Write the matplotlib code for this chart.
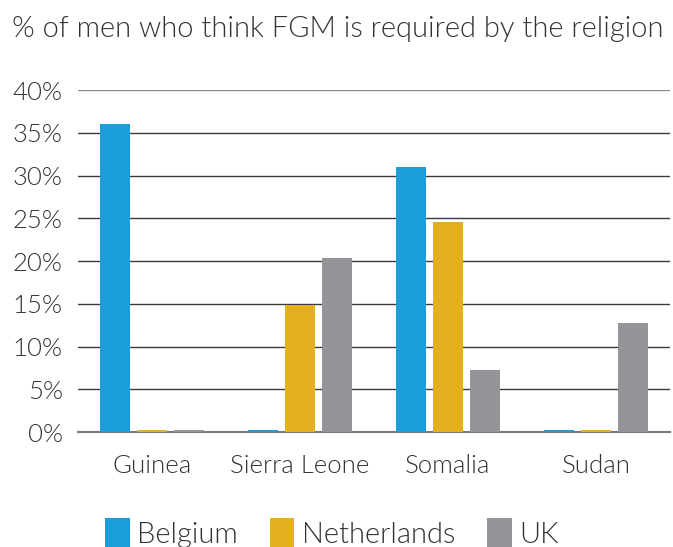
import matplotlib
matplotlib.use("Agg")
import matplotlib.pyplot as plt
import numpy as np
from matplotlib.patches import Patch

categories = ["Guinea", "Sierra Leone", "Somalia", "Sudan"]
series_names = ["Belgium", "Netherlands", "UK"]
belgium = [36.0, 0.2, 31.0, 0.2]
netherlands = [0.2, 14.8, 24.6, 0.2]
uk = [0.2, 20.4, 7.2, 12.7]
colors = ["#1b9dd9", "#e3b022", "#939598"]
yticks = [0, 5, 10, 15, 20, 25, 30, 35, 40]

plt.rcParams['font.family'] = ['Lato', 'DejaVu Sans']
plt.rcParams['font.weight'] = 300
TXT = '#333333'
fig = plt.figure(figsize=(6.73, 5.47), dpi=100)
ax = fig.add_axes([78/673, 1-432/547, 592/673, 342/547])

x = np.arange(len(categories))
w = 0.2
step = 0.25
for i, (vals, c) in enumerate(zip([belgium, netherlands, uk], colors)):
    ax.bar(x + (i-1)*step, vals, width=w, color=c, zorder=3)

ax.set_xlim(-0.5, 3.5)
ax.set_ylim(0, 40)
ax.set_yticks(yticks)
ax.set_yticklabels([f"{t}%" for t in yticks], fontsize=18.5, fontweight=300, color=TXT)
ax.set_xticks(x)
ax.set_xticklabels(categories, fontsize=18.5, fontweight=300, color=TXT)
ax.tick_params(axis='both', length=0)
ax.tick_params(axis='y', pad=11)
ax.tick_params(axis='x', pad=16)
for t in yticks[1:]:
    ax.axhline(t, color='#3a3a3a' if t < 40 else '#8a8a8a', lw=1.0, zorder=1)
for s in ['top', 'right', 'left']:
    ax.spines[s].set_visible(False)
ax.spines['bottom'].set_color('#7a7a7a')
ax.spines['bottom'].set_linewidth(1.5)

fig.text(338/673, 1-29/547, "% of men who think FGM is required by the religion",
         ha='center', va='center', fontsize=21, fontweight=300, color=TXT)

handles = [Patch(facecolor=c) for c in colors]
leg = fig.legend(handles, series_names, loc='center', bbox_to_anchor=(0.493, 1-533/547),
                 ncol=3, frameon=False, handlelength=0.85, handleheight=1.2,
                 handletextpad=0.25, columnspacing=1.1, prop={'weight': 300, 'size': 21})
for t in leg.get_texts():
    t.set_color(TXT)

fig.savefig("out.png", dpi=100)
